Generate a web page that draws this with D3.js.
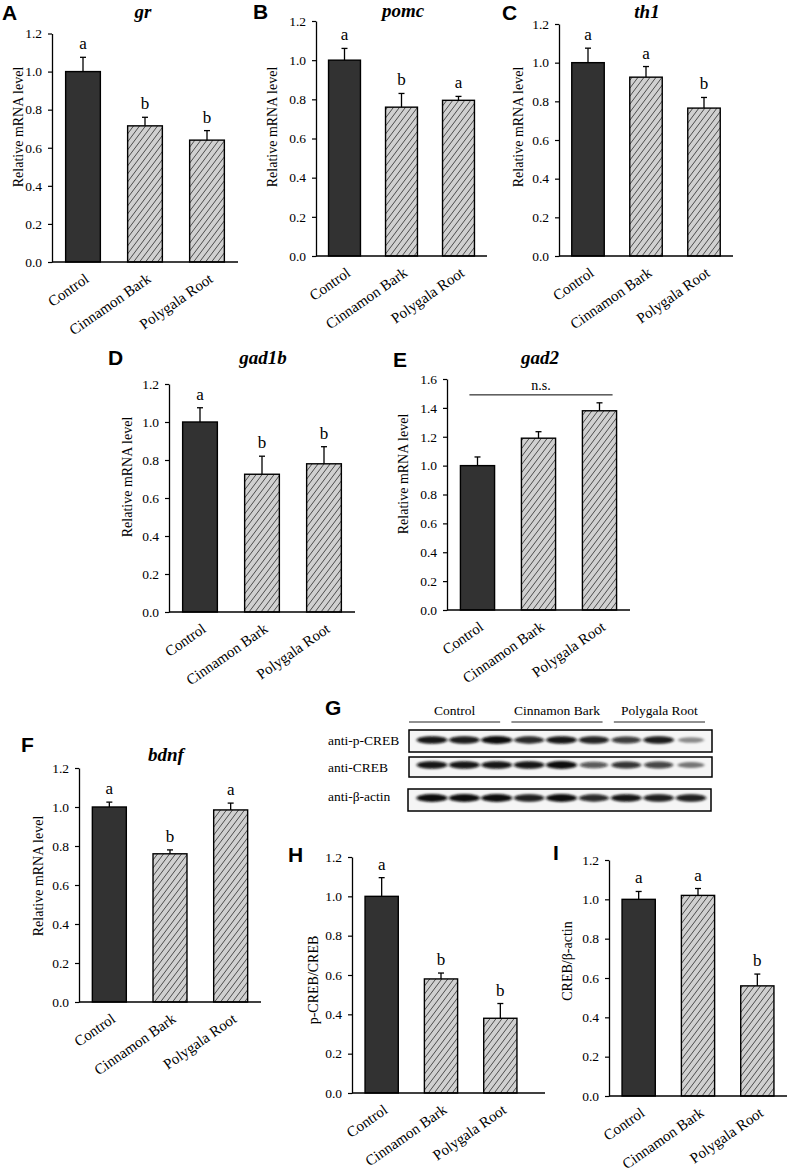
<!DOCTYPE html>
<html>
<head>
<meta charset="utf-8">
<script src="https://cdn.jsdelivr.net/npm/d3@7/dist/d3.min.js"></script>
<style>
  html,body{margin:0;padding:0;background:#fff;}
  svg{display:block;}
</style>
</head>
<body>
<div id="fig"></div>
<script>
// ---- data ----
const groups = ["Control", "Cinnamon Bark", "Polygala Root"];

const grMean = [1.0, 0.715, 0.64];
const grErr = [0.075, 0.045, 0.05];
const grSig = ["a", "b", "b"];

const pomcMean = [1.0, 0.76, 0.795];
const pomcErr = [0.06, 0.07, 0.02];
const pomcSig = ["a", "b", "a"];

const th1Mean = [1.0, 0.925, 0.765];
const th1Err = [0.075, 0.055, 0.055];
const th1Sig = ["a", "a", "b"];

const gad1bMean = [1.0, 0.725, 0.78];
const gad1bErr = [0.075, 0.095, 0.09];
const gad1bSig = ["a", "b", "b"];

const gad2Mean = [1.0, 1.19, 1.38];
const gad2Err = [0.06, 0.045, 0.055];

const bdnfMean = [1.0, 0.76, 0.985];
const bdnfErr = [0.025, 0.02, 0.035];
const bdnfSig = ["a", "b", "a"];

const pcrebMean = [1.0, 0.58, 0.38];
const pcrebErr = [0.095, 0.03, 0.075];
const pcrebSig = ["a", "b", "b"];

const crebMean = [1.0, 1.02, 0.56];
const crebErr = [0.04, 0.035, 0.06];
const crebSig = ["a", "a", "b"];

const ticks12 = [0, 0.2, 0.4, 0.6, 0.8, 1.0, 1.2];
const ticks16 = [0, 0.2, 0.4, 0.6, 0.8, 1.0, 1.2, 1.4, 1.6];

// western blot: relative band intensity per lane (3 lanes per group)
const blotLanes = [0, 1, 2, 3, 4, 5, 6, 7, 8];
const blotLabels = ["anti-p-CREB", "anti-CREB", "anti-\u03b2-actin"];
const pcrebBands = [0.95, 0.92, 1.0, 0.85, 0.95, 0.88, 0.75, 0.92, 0.3];
const crebBands = [0.95, 0.95, 0.95, 0.95, 1.0, 0.6, 0.8, 0.7, 0.4];
const actinBands = [1.0, 1.0, 1.0, 0.9, 1.0, 0.85, 0.95, 0.9, 0.9];

// ---- layout ----
const W = 789, H = 1171;
const serif = "'Liberation Serif','Times New Roman',serif";
const sans = "'Liberation Sans',Arial,sans-serif";

const panels = [
  {letter:"A", title:"gr", ylab:"Relative mRNA level", mean:grMean, err:grErr, sig:grSig, ticks:ticks12,
   ax:52, bandR:238, axR:238, yT:33.5, yB:262, lx:2, ly:20, tx:143, ty:18, yx:23, yy:127},
  {letter:"B", title:"pomc", ylab:"Relative mRNA level", mean:pomcMean, err:pomcErr, sig:pomcSig, ticks:ticks12,
   ax:316, bandR:487, axR:487, yT:21, yB:256, lx:253, ly:19, tx:403, ty:17, yx:277, yy:127},
  {letter:"C", title:"th1", ylab:"Relative mRNA level", mean:th1Mean, err:th1Err, sig:th1Sig, ticks:ticks12,
   ax:559, bandR:733, axR:733, yT:24, yB:256, lx:502, ly:20, tx:647, ty:18, yx:523, yy:127},
  {letter:"D", title:"gad1b", ylab:"Relative mRNA level", mean:gad1bMean, err:gad1bErr, sig:gad1bSig, ticks:ticks12,
   ax:169, bandR:355, axR:355, yT:384, yB:612, lx:108, ly:365, tx:263, ty:364, yx:132, yy:477},
  {letter:"E", title:"gad2", ylab:"Relative mRNA level", mean:gad2Mean, err:gad2Err, sig:null, ticks:ticks16, ns:1.49,
   ax:447, bandR:630, axR:630, yT:379, yB:610, lx:393, ly:367, tx:540, ty:364, yx:408, yy:474},
  {letter:"F", title:"bdnf", ylab:"Relative mRNA level", mean:bdnfMean, err:bdnfErr, sig:bdnfSig, ticks:ticks12,
   ax:79, bandR:261, axR:261, yT:768, yB:1002, lx:21, ly:752, tx:166, ty:761, yx:43, yy:876},
  {letter:"H", title:null, ylab:"p-CREB/CREB", mean:pcrebMean, err:pcrebErr, sig:pcrebSig, ticks:ticks12,
   ax:352, bandR:530, axR:545, yT:857, yB:1093, lx:288, ly:862, yx:318, yy:980},
  {letter:"I", title:null, ylab:"CREB/\u03b2-actin", mean:crebMean, err:crebErr, sig:crebSig, ticks:ticks12,
   ax:609, bandR:787, axR:787, yT:860, yB:1096, lx:553, ly:860, yx:572, yy:961}
];

const svg = d3.select("#fig").append("svg")
  .attr("width", W).attr("height", H)
  .attr("viewBox", `0 0 ${W} ${H}`);

svg.append("rect").attr("width", W).attr("height", H).attr("fill", "#fff");

const defs = svg.append("defs");

// diagonal hatch for treated groups
const hatch = defs.append("pattern")
  .attr("id", "hatch")
  .attr("patternUnits", "userSpaceOnUse")
  .attr("width", 6).attr("height", 8);
hatch.append("rect").attr("width", 6).attr("height", 8).attr("fill", "#d0d0d0");
hatch.append("path")
  .attr("d", "M0,8 L6,0 M-1,1.33 L1,-1.33 M5,9.33 L7,6.67")
  .attr("stroke", "#333").attr("stroke-width", 0.85);

const blur = defs.append("filter").attr("id", "bandBlur")
  .attr("x", "-30%").attr("y", "-100%").attr("width", "160%").attr("height", "300%");
blur.append("feGaussianBlur").attr("stdDeviation", "1.6 1.1");

const fmt = d3.format(".1f");

panels.forEach(p => {
  const g = svg.append("g");
  const maxV = p.ticks[p.ticks.length - 1];

  const x = d3.scaleBand()
    .domain(groups)
    .range([p.ax, p.bandR])
    .paddingInner(0.44)
    .paddingOuter(0.22);

  const y = d3.scaleLinear()
    .domain([0, maxV])
    .range([p.yB, p.yT]);

  // bars
  g.selectAll("rect.bar")
    .data(groups)
    .join("rect")
    .attr("class", "bar")
    .attr("x", d => x(d))
    .attr("width", x.bandwidth())
    .attr("y", (d, i) => y(p.mean[i]))
    .attr("height", (d, i) => y(0) - y(p.mean[i]))
    .attr("fill", (d, i) => i === 0 ? "#323232" : "url(#hatch)")
    .attr("stroke", "#000")
    .attr("stroke-width", 1.4);

  // error bars (upper only)
  groups.forEach((d, i) => {
    const cx = x(d) + x.bandwidth() / 2;
    g.append("line")
      .attr("x1", cx).attr("x2", cx)
      .attr("y1", y(p.mean[i])).attr("y2", y(p.mean[i] + p.err[i]))
      .attr("stroke", "#000").attr("stroke-width", 1.3);
    g.append("line")
      .attr("x1", cx - 3).attr("x2", cx + 3)
      .attr("y1", y(p.mean[i] + p.err[i])).attr("y2", y(p.mean[i] + p.err[i]))
      .attr("stroke", "#000").attr("stroke-width", 1.3);
    if (p.sig) {
      g.append("text")
        .attr("x", cx)
        .attr("y", y(p.mean[i] + p.err[i]) - 8)
        .attr("text-anchor", "middle")
        .style("font-family", serif)
        .style("font-size", "17px")
        .text(p.sig[i]);
    }
  });

  // y axis
  const yAxis = g.append("g")
    .attr("transform", `translate(${p.ax},0)`)
    .call(d3.axisLeft(y).tickValues(p.ticks).tickFormat(fmt).tickSize(4).tickSizeOuter(0).tickPadding(6));
  yAxis.select(".domain").attr("stroke", "#000").attr("stroke-width", 1.3);
  yAxis.selectAll(".tick line").attr("stroke", "#000").attr("stroke-width", 1.2);
  yAxis.selectAll(".tick text")
    .style("font-family", serif)
    .style("font-size", "13.5px")
    .attr("fill", "#000");

  // x axis line
  g.append("line")
    .attr("x1", p.ax).attr("x2", p.axR)
    .attr("y1", p.yB).attr("y2", p.yB)
    .attr("stroke", "#000").attr("stroke-width", 1.3);

  // rotated category labels
  groups.forEach(d => {
    const cx = x(d) + x.bandwidth() / 2 + 7;
    const cy = p.yB + 19;
    g.append("text")
      .attr("transform", `translate(${cx},${cy}) rotate(-35)`)
      .attr("text-anchor", "end")
      .style("font-family", serif)
      .style("font-size", "15px")
      .text(d);
  });

  // y label
  g.append("text")
    .attr("transform", `translate(${p.yx},${p.yy}) rotate(-90)`)
    .attr("text-anchor", "middle")
    .style("font-family", serif)
    .style("font-size", "14px")
    .text(p.ylab);

  // panel letter
  g.append("text")
    .attr("x", p.lx).attr("y", p.ly)
    .style("font-family", sans)
    .style("font-weight", "bold")
    .style("font-size", "21px")
    .text(p.letter);

  if (p.title) {
    g.append("text")
      .attr("x", p.tx).attr("y", p.ty)
      .attr("text-anchor", "middle")
      .style("font-family", serif)
      .style("font-weight", "bold")
      .style("font-style", "italic")
      .style("font-size", "19px")
      .text(p.title);
  }

  if (p.ns != null) {
    const x1 = x(groups[0]) + 9;
    const x2 = x(groups[2]) + x.bandwidth() - 4;
    g.append("line")
      .attr("x1", x1).attr("x2", x2)
      .attr("y1", y(p.ns)).attr("y2", y(p.ns))
      .attr("stroke", "#000").attr("stroke-width", 1);
    g.append("text")
      .attr("x", (x1 + x2) / 2).attr("y", y(p.ns) - 5)
      .attr("text-anchor", "middle")
      .style("font-family", serif)
      .style("font-size", "14px")
      .text("n.s.");
  }
});

// ---- panel G: western blot ----
const blot = svg.append("g");

blot.append("text")
  .attr("x", 325).attr("y", 715)
  .style("font-family", sans)
  .style("font-weight", "bold")
  .style("font-size", "21px")
  .text("G");

const gx = d3.scaleBand().domain(groups).range([409, 705]).paddingInner(0.11);
groups.forEach(d => {
  blot.append("text")
    .attr("x", gx(d) + gx.bandwidth() / 2).attr("y", 715)
    .attr("text-anchor", "middle")
    .style("font-family", serif)
    .style("font-size", "13.5px")
    .text(d);
  blot.append("line")
    .attr("x1", gx(d)).attr("x2", gx(d) + gx.bandwidth())
    .attr("y1", 722).attr("y2", 722)
    .attr("stroke", "#222").attr("stroke-width", 1);
});

const lane = d3.scalePoint().domain(blotLanes).range([432, 691]);
const blotRows = [
  {bands: pcrebBands, top: 730, bottom: 752, x0: 409, x1: 712, by: 740, ty: 745},
  {bands: crebBands, top: 757, bottom: 777, x0: 409, x1: 712, by: 765, ty: 772},
  {bands: actinBands, top: 789, bottom: 811, x0: 408, x1: 711, by: 798, ty: 801}
];

blotRows.forEach((r, ri) => {
  blot.append("rect")
    .attr("x", r.x0).attr("y", r.top)
    .attr("width", r.x1 - r.x0).attr("height", r.bottom - r.top)
    .attr("fill", "#f5f5f5");
  blot.append("g")
    .attr("filter", "url(#bandBlur)")
    .selectAll("ellipse")
    .data(blotLanes)
    .join("ellipse")
    .attr("cx", d => lane(d))
    .attr("cy", r.by)
    .attr("rx", d => 12 + 3.5 * r.bands[d])
    .attr("ry", d => 2.4 + 1.5 * r.bands[d])
    .attr("fill", "#0a0a0a")
    .attr("opacity", d => 0.2 + 0.8 * r.bands[d]);
  blot.append("rect")
    .attr("x", r.x0).attr("y", r.top)
    .attr("width", r.x1 - r.x0).attr("height", r.bottom - r.top)
    .attr("fill", "none")
    .attr("stroke", "#000").attr("stroke-width", 1.5);
  blot.append("text")
    .attr("x", 328).attr("y", r.ty)
    .style("font-family", serif)
    .style("font-size", "13.5px")
    .text(blotLabels[ri]);
});
</script>
</body>
</html>
